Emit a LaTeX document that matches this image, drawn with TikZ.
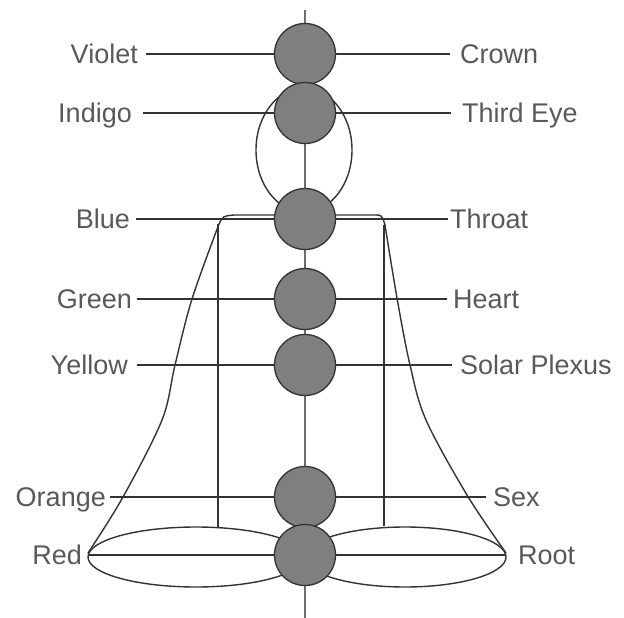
\documentclass[tikz,border=0pt]{standalone}
\usepackage{fontspec}
\setmainfont{Liberation Sans}
\usetikzlibrary{positioning}
\definecolor{ink}{HTML}{333333}
\definecolor{muted}{HTML}{6E6E6E}
\definecolor{disc}{HTML}{7F7F7F}

\begin{document}
\begin{tikzpicture}[x=1pt, y=-1pt,
    chakra/.style={circle, draw=ink, fill=disc, line width=1.3pt, minimum size=61pt, inner sep=0pt},
    lbl/.style={inner sep=0pt, text=black!65, font=\fontsize{27}{30}\selectfont, text height=19.5pt, text depth=0pt},
    ray/.style={ink, line width=1.8pt},
    outline/.style={ink, line width=1.4pt}]
    \useasboundingbox (0,0) rectangle (624,618);
    % spine
    \coordinate (top) at (305,10);
    \coordinate (bot) at (305,618);
    \draw[muted, line width=1.1pt] (top) -- (bot);
    % rays and labels
    \coordinate (violetL) at (146,54);  \coordinate (violetR) at (450,54);
    \coordinate (indigoL) at (143,113); \coordinate (indigoR) at (451,113);
    \coordinate (blueL) at (136,219);   \coordinate (blueR) at (448,219);
    \coordinate (greenL) at (137,299);  \coordinate (greenR) at (447,299);
    \coordinate (yellowL) at (137,365); \coordinate (yellowR) at (452,365);
    \coordinate (orangeL) at (110,497); \coordinate (orangeR) at (486,497);
    \coordinate (redL) at (88,555);     \coordinate (redR) at (506,555);
    \draw[ray] (violetL) -- (violetR);
    \draw[ray] (indigoL) -- (indigoR);
    \draw[ray] (blueL) -- (blueR);
    \draw[ray] (greenL) -- (greenR);
    \draw[ray] (yellowL) -- (yellowR);
    \draw[ray] (orangeL) -- (orangeR);
    \draw[ray] (redL) -- (redR);
    \node[lbl, left=8pt of violetL] (violet) {Violet};
    \node[lbl, right=10pt of violetR] (crown) {Crown};
    \node[lbl, left=11pt of indigoL] (indigo) {Indigo};
    \node[lbl, right=11pt of indigoR] (thirdeye) {Third Eye};
    \node[lbl, left=6pt of blueL] (blue) {Blue};
    \node[lbl, right=2pt of blueR] (throat) {Throat};
    \node[lbl, left=5pt of greenL] (green) {Green};
    \node[lbl, right=6pt of greenR] (heart) {Heart};
    \node[lbl, left=9pt of yellowL] (yellow) {Yellow};
    \node[lbl, right=8pt of yellowR] (solar) {Solar Plexus};
    \node[lbl, left=4pt of orangeL] (orange) {Orange};
    \node[lbl, right=7pt of orangeR] (sex) {Sex};
    \node[lbl, left=6pt of redL] (red) {Red};
    \node[lbl, right=12pt of redR] (root) {Root};
    % head and base loops
    \draw[outline] (304,150) ellipse [x radius=48pt, y radius=62pt];
    \draw[outline] (196,557) ellipse [x radius=108pt, y radius=30pt];
    \draw[outline] (405,557) ellipse [x radius=101pt, y radius=30pt];
    % bell
    \draw[outline] plot[smooth, tension=0.55] coordinates {(88,553) (123,497) (162,420) (175,365) (192,299) (219,224)}
        .. controls (223,216) .. (234,215) -- (374,215) .. controls (382,215) .. (385,225)
        -- plot[smooth, tension=0.55] coordinates {(385,225) (397,298) (410,365) (426,420) (467,495) (506,553)};
    \coordinate (legL) at (218,224);  \coordinate (footL) at (218,528);
    \coordinate (legR) at (384,225);  \coordinate (footR) at (384,526);
    \draw[outline] (legL) -- (footL);
    \draw[outline] (legR) -- (footR);
    % chakras
    \node[chakra] (cviolet) at (305,54) {};
    \node[chakra] (cindigo) at (305,113) {};
    \node[chakra] (cblue) at (305,219) {};
    \node[chakra] (cgreen) at (305,299) {};
    \node[chakra] (cyellow) at (305,365) {};
    \node[chakra] (corange) at (305,497) {};
    \node[chakra] (cred) at (305,555) {};
\end{tikzpicture}
\end{document}
